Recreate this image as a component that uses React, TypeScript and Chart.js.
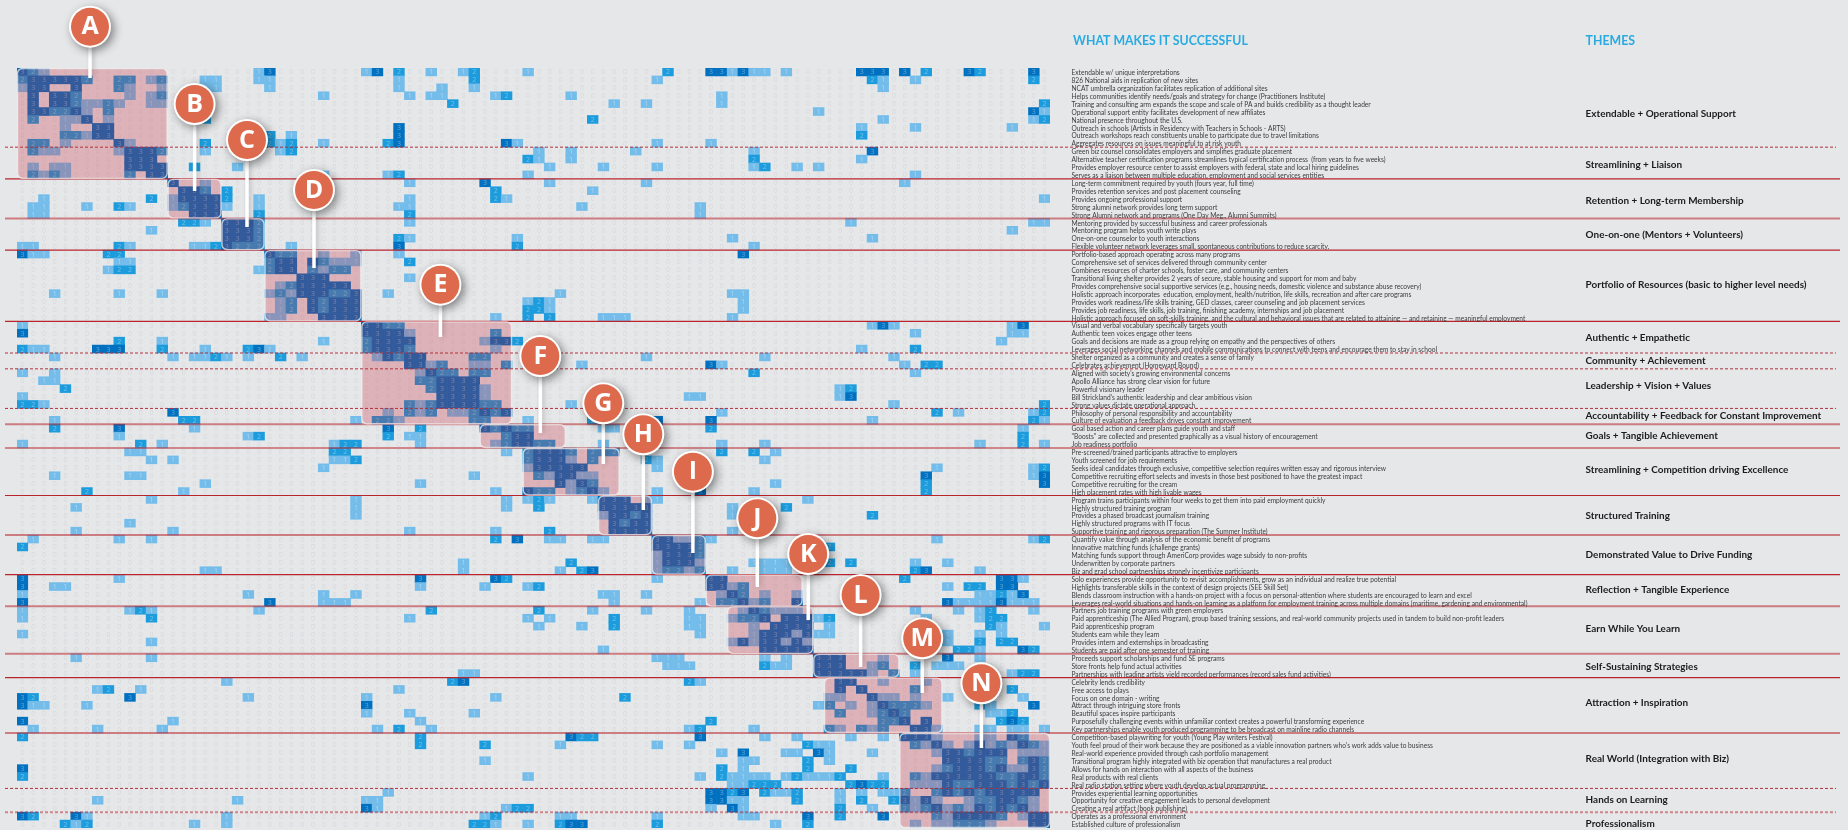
import React, { useEffect, useRef } from "react";
import { Chart, registerables } from "chart.js";

Chart.register(...registerables);

// ---------- DATA ----------
// Each entry is one matrix row, written as "column:score" for every non-zero cell (all others are 0).
const rowScores: string[] = [
  "0:3 1:2 2:1 22:1 23:3 32:1 33:3 35:2 38:1 41:1 42:2 47:1 60:2 64:3 65:3 66:1 67:3 68:1 69:1 71:1 78:3 79:3 80:3 82:3 84:2 88:3 89:2 94:3",
  "0:2 1:3 2:3 3:3 4:3 5:3 6:2 9:2 10:2 12:1 13:2 17:1 18:1 22:1 23:1 35:1 42:2 59:1 79:2 80:1 83:1 94:2",
  "0:1 1:3 2:3 5:3 9:2 10:1 13:1 17:1 18:1 23:1 35:1 39:1 42:1 80:1",
  "1:3 3:3 4:3 5:2 10:1 12:1 13:2 28:1 36:1 38:1 39:1 44:1 45:2 51:1 65:1",
  "1:3 3:3 4:3 5:2 6:1 7:1 8:2 9:1 12:1 13:1 40:2 55:1 58:1 65:1 95:2",
  "1:3 2:3 3:2 4:2 5:3 6:1 8:2 74:1 94:3 95:1",
  "1:2 4:1 5:1 6:3 8:1 17:2 53:2 80:1 94:1 95:2",
  "4:1 7:3 8:3 35:3 78:1 83:1 92:1",
  "4:2 5:2 6:1 7:3 8:3 23:2 25:1 35:3 78:2",
  "1:2 2:2 4:1 9:3 10:1 17:2 23:2 24:1 25:2 28:1 34:2 35:3 45:3 46:1 59:1 64:1",
  "1:2 2:1 3:1 9:1 10:3 11:3 12:3 13:2 17:1 24:1 25:2 48:1 51:1 57:1 68:1 79:3",
  "10:3 11:3 12:3 47:2 48:1 51:1 68:2 78:1",
  "1:1 3:1 4:1 10:3 11:3 12:3 13:3 16:2 20:1 49:1 54:1 59:1 68:1 69:2 72:1 74:1",
  "1:2 2:1 3:2 4:1 10:2 12:3 13:3 28:1 34:1 35:2 47:1 83:1",
  "14:3 17:1 36:1 43:3 49:1 58:1 82:1",
  "15:3 16:3 17:2 19:2 44:2 53:1",
  "2:1 12:2 14:1 15:3 16:3 17:3 18:3 19:2 22:1 36:1 44:2 45:1 95:1",
  "1:1 2:1 6:1 9:2 10:1 14:1 15:2 16:3 17:3 18:3 19:1 22:1 35:1 36:1 52:1 63:1",
  "1:1 2:1 16:3 17:3 18:3 22:2 36:2 63:1",
  "15:2 16:2 17:1 19:3 20:3 21:3 22:2 36:1 77:1 94:1 95:1",
  "12:1 19:3 20:3 21:3 22:2 92:1",
  "19:3 20:3 21:3 22:2 35:2 36:1 46:1 66:1 79:1",
  "0:1 1:1 9:2 10:1 16:1 17:1 18:2 19:3 20:2 21:2 22:2 25:1 35:3 46:2 68:1",
  "0:3 1:1 2:1 8:2 9:2 23:3 24:2 25:2 28:1 31:1 35:1 67:3",
  "9:1 10:1 23:2 24:3 25:3 27:3 28:2 29:1 30:1 31:1 36:2",
  "8:1 9:2 10:2 22:1 23:2 24:3 25:3 27:2 28:1 29:2 30:2",
  "26:3 27:3 28:3 36:1",
  "24:1 25:2 26:3 27:3 28:3 29:3 30:3",
  "3:1 9:1 13:1 23:1 24:2 25:1 26:3 27:3 28:3 29:2 30:2 31:3 34:1 50:1 66:1 67:1",
  "24:1 25:2 27:3 28:2 29:3 30:3 31:3 47:1 48:2 49:1 67:1",
  "24:1 25:2 27:3 28:2 29:3 30:3 31:3 47:2 48:2 49:1 67:1",
  "23:1 24:1 28:3 29:3 30:3 31:3 44:1 47:2 49:2 54:1 55:1 56:1 66:1",
  "0:1 32:3 33:3 34:2 35:2 79:1 80:3 81:1 92:1 93:3",
  "0:3 32:3 33:3 34:3 35:3 36:1 44:2 83:1 92:1 93:1",
  "9:2 13:1 28:1 32:2 33:3 34:3 35:3 36:3 43:1 44:3 45:3 46:2 91:1",
  "0:2 1:1 2:1 7:3 8:3 9:3 13:2 17:1 21:2 22:3 23:1 32:2 33:3 34:3 35:3 36:2 44:1 78:1 83:2",
  "3:1 14:1 16:1 17:1 18:2 19:1 21:1 24:2 26:1 33:1 34:3 35:2 36:3 37:3 42:2 43:2 47:1 58:1 69:1 81:1",
  "36:3 37:3 38:1 39:2 42:1 43:1 45:2 47:1 52:1 64:3 65:1 82:1 84:2 85:2",
  "0:1 3:1 37:1 38:3 39:2 40:2 42:2 43:2 68:2 83:1",
  "2:1 3:1 37:2 38:2 39:3 40:3 41:3 42:3",
  "4:2 38:2 39:3 40:3 41:3 42:3 43:1 76:1 77:2",
  "0:1 39:3 40:3 41:3 42:3 43:1 62:1 63:1 76:1 77:3",
  "0:2 1:2 2:1 36:2 37:1 38:2 39:3 40:3 41:3 42:3 43:2 44:2 51:1 81:1 95:2",
  "14:3 34:1 36:2 37:1 38:2 40:1 41:1 42:2 43:3 44:2 45:3 65:1 85:2 87:1 94:1 95:2",
  "3:1 15:2 16:2 31:1 33:2 34:2 35:1 42:2 43:2 47:1 53:2 59:3 64:3 79:1 94:2 95:1",
  "3:2 9:3 16:1 34:3 37:2 43:3 44:2 45:3 46:2 47:2 54:1 55:1 64:2 93:1",
  "9:1 21:1 22:2 34:2 36:1 37:1 45:2 46:3 47:3 93:2",
  "0:1 11:2 13:1 29:1 30:2 31:2 37:1 44:1 45:2 46:3 47:3 48:2 49:2 54:1 65:1 69:1 89:1 93:2 95:1",
  "10:1 11:1 29:2 30:2 45:1 47:2 48:3 49:3 50:3 51:2 53:2 54:2 55:2 65:2 68:2 70:1",
  "12:1 14:1 29:1 30:1 31:2 47:2 48:3 49:3 50:3 51:1 53:2 58:2 59:1 69:1",
  "28:1 47:1 48:3 49:3 50:3 51:3 52:3 59:1 85:1 94:1 95:2",
  "3:1 10:1 11:1 42:1 48:2 49:1 50:3 51:3 52:1 53:1 84:3 94:1 95:3",
  "17:1 37:1 50:3 51:1 52:3 53:2 70:1 84:2 95:3",
  "6:2 15:1 44:1 47:3 48:2 49:2 51:1 52:2 53:3 54:1 59:1 63:3 68:1 84:2",
  "12:1 31:1 45:1 47:1 48:2 49:1 53:1 54:3 55:3 56:3 58:1 59:1 73:1",
  "5:1 31:1 45:1 48:2 54:3 55:3 56:3 57:3 58:3 66:1 71:2",
  "31:1 54:1 55:3 56:3 57:2 58:3 66:1 79:2",
  "10:1 55:3 56:2 57:3 58:3",
  "5:1 14:1 36:1 44:1 49:2 55:3 56:3 57:3 58:3 66:1",
  "1:1 9:1 12:1 44:2 46:3 49:1 50:1 53:1 54:1 59:3 60:3 61:1 62:1 63:2 64:1 85:1 94:1 95:2",
  "0:2 59:3 60:3 61:3 62:3 63:2 75:2",
  "59:1 60:3 61:3 62:3 63:2",
  "41:1 51:2 59:1 60:3 61:3 62:3 63:1 68:1 69:1 70:1 71:1 75:2 77:2 83:1 86:1",
  "17:1 18:1 41:1 50:1 52:2 53:3 59:1 60:2 61:2 62:1 63:2 66:1 69:1 70:1 71:1 83:2 84:3 89:1",
  "0:3 9:1 37:3 44:3 45:2 59:1 64:3 65:3 82:2 91:3 92:3 93:1",
  "0:3 3:1 4:1 37:1 43:1 47:1 48:2 64:3 65:3 66:1 67:2 86:1 88:2 89:2 91:3 92:3",
  "0:1 21:1 28:1 31:1 54:1 55:1 58:1 65:1 66:3 67:2 69:1 72:1 89:1 90:1 91:2 92:1 93:3",
  "0:3 23:3 28:1 29:1 30:1 55:1 63:1 65:2 66:2 67:3 68:1 69:2 72:3 86:3 87:1 88:1 89:1 90:1 91:3 92:1 93:1 94:1",
  "0:1 10:1 11:2 12:1 22:1 38:2 48:2 53:1 58:1 62:1 67:1 68:3 69:2 70:1 71:1 72:1 83:1 87:1 89:1 90:2 94:1",
  "0:1 12:2 36:1 47:1 49:1 55:2 62:1 63:1 66:1 67:2 68:2 69:3 71:3 72:3 73:3 74:1 75:2 84:1 89:1 90:2 91:2",
  "48:1 52:1 55:2 62:1 63:1 68:1 70:3 71:3 72:3 73:3 75:1 90:2 91:1 95:1",
  "0:1 63:1 68:1 69:3 70:3 71:3 72:1 73:3 74:1 75:1 86:1 89:1 91:1",
  "12:1 66:1 67:3 68:1 69:3 70:3 71:1 72:3 73:1 86:1 89:2 91:2 92:2",
  "54:1 69:3 70:3 71:3 72:3 73:3 87:2 88:2 89:1 93:3 94:2",
  "5:1 12:1 59:1 60:1 61:1 69:1 71:1 74:3 75:3 76:3 80:1 86:3 89:1",
  "60:1 61:1 62:1 69:2 70:1 71:1 74:3 75:3 76:3 79:1 80:2 83:2 85:1 86:1 87:1",
  "41:1 42:1 74:3 75:3 76:3 77:3 78:3 79:1 81:2 83:1 92:1 93:2 94:2",
  "19:1 40:2 41:3 62:2 63:1 76:3 77:3 80:1 84:1",
  "7:1 8:2 11:1 35:1 76:3 78:3 83:2 92:2",
  "0:3 1:2 10:3 21:1 32:1 44:1 56:2 75:1 76:1 79:3 80:1 81:1 83:1 86:1 93:1",
  "0:3 1:1 2:1 6:1 32:3 74:1 75:2 77:1 79:1 80:3 81:2 82:2 83:2 84:1 89:2 90:1 94:3",
  "32:1 36:1 42:1 76:2 79:1 80:2 81:3 82:2 90:1 91:1 92:2",
  "0:3 14:1 37:1 64:2 80:2 81:2 82:3 84:3 91:2 92:3 93:2",
  "1:1 7:1 13:1 33:1 35:2 38:1 62:1 63:2 68:1 75:2 76:1 78:2 79:1 80:2 83:3 84:3 85:1 89:1 90:1 92:1 93:1 95:1",
  "0:2 37:2 51:3 52:2 53:2 63:3 69:1 72:1 77:1 80:1 82:3 83:3 84:3 85:1 89:1 90:1 92:3 93:2",
  "37:2 43:2 50:1 59:1 62:1 73:2 74:1 75:1 83:2 84:1 85:3 86:1 88:1 89:3 90:1 91:2 92:1 93:3 94:2 95:1",
  "65:1 67:3 71:1 72:1 74:3 75:1 79:1 85:1 86:3 87:3 88:2 89:3 90:3 91:3 93:1 94:1 95:1",
  "43:1 67:1 68:1 73:2 75:1 86:3 87:3 88:3 89:3 90:2 91:2 93:2 94:3 95:2",
  "0:3 65:2 67:1 73:2 77:2 85:1 86:2 87:3 88:3 89:3 90:2 91:3 92:1 93:1 94:3 95:2",
  "0:2 47:1 63:1 65:2 66:1 67:1 68:1 69:1 71:1 72:2 73:1 74:1 75:1 76:2 80:1 83:2 84:1 85:3 86:3 87:3 88:3 89:3 90:3 91:2 92:2 93:3 94:3 95:2",
  "66:1 67:1 68:2 69:2 70:2 77:2 78:3 79:2 80:2 83:1 84:1 85:1 86:3 87:2 88:2 89:3 90:3 91:3 92:2 93:3 94:2 95:3",
  "34:1 64:3 65:3 66:2 67:3 69:2 70:1 71:1 72:2 76:1 78:1 80:1 81:1 82:2 85:2 86:3 87:2 88:3 89:2 90:3 91:3 92:3 93:3 94:3",
  "7:1 20:1 32:1 33:1 64:3 65:3 66:1 67:1 72:2 76:1 78:2 81:2 82:3 83:1 84:3 85:1 88:1 89:2 90:2 91:3 92:3 93:2 94:1",
  "32:3 33:1 45:1 46:2 47:2 64:1 66:3 67:1 76:2 79:1 82:2 83:1 84:2 85:3 86:1 87:2 88:1 89:3 90:2 91:3 92:2 93:3 94:1",
  "0:3 1:2 5:3 6:1 19:1 43:1 44:2 50:1 51:1 59:1 67:1 68:1 73:3 76:2 80:3 85:2 86:1 87:3 88:3 89:3 90:3 91:2 93:1 94:3 95:3",
  "4:2 5:1 6:2 16:1 19:1 42:2 43:2 44:1 47:1 50:2 51:3 52:3 59:2 70:1 73:2 83:1 85:1 86:1 87:2 88:2 89:2 90:1 94:3 95:3",
];

const successFactors: string[] = [
  "Extendable w/ unique interpretations",
  "826 National aids in replication of new sites",
  "NCAT umbrella organization facilitates replication of additional sites",
  "Helps communities identify needs/goals and strategy for change (Practitioners Institute)",
  "Training and consulting arm expands the scope and scale of PA and builds credibility as a thought leader",
  "Operational support entity facilitates development of new affiliates",
  "National presence throughout the U.S.",
  "Outreach in schools (Artists in Residency with Teachers in Schools - ARTS)",
  "Outreach workshops reach constituents unable to participate due to travel limitations",
  "Aggregates resources on issues meaningful to at risk youth",
  "Green biz counsel consolidates employers and simplifies graduate placement",
  "Alternative teacher certification programs streamlines typical certification process  (from years to five weeks)",
  "Provides employer resource center to assist employers with federal, state and local hiring guidelines",
  "Serves as a liaison between multiple education, employment and social services entities",
  "Long-term commitment required by youth (fours year, full time)",
  "Provides retention services and post placement counseling",
  "Provides ongoing professional support",
  "Strong alumni network provides long term support",
  "Strong Alumni network and programs (One Day Meg., Alumni Summits)",
  "Mentoring provided by successful business and career professionals",
  "Mentoring program helps youth write plays",
  "One-on-one counselor to youth interactions",
  "Flexible volunteer network leverages small, spontaneous contributions to reduce scarcity.",
  "Portfolio-based approach operating across many programs",
  "Comprehensive set of services delivered through community center",
  "Combines resources of charter schools, foster care, and community centers",
  "Transitional living shelter provides 2 years of secure, stable housing and support for mom and baby",
  "Provides comprehensive social supportive services (e.g., housing needs, domestic violence and substance abuse recovery)",
  "Holistic approach incorporates  education, employment, health/nutrition, life skills, recreation and after care programs",
  "Provides work readiness/life skills training, GED classes, career counseling and job placement services",
  "Provides job readiness, life skills, job training, finishing academy, internships and job placement",
  "Holistic approach focused on soft-skills training, and the cultural and behavioral issues that are related to attaining — and retaining — meaningful employment",
  "Visual and verbal vocabulary specifically targets youth",
  "Authentic teen voices engage other teens",
  "Goals and decisions are made as a group relying on empathy and the perspectives of others",
  "Leverages social networking channels and mobile communications to connect with teens and encourage them to stay in school",
  "Shelter organized as a community and creates a sense of family",
  "Celebrates achievement (Homeward Bound)",
  "Aligned with society's growing environmental concerns",
  "Apollo Alliance has strong clear vision for future",
  "Powerful visionary leader",
  "Bill Strickland's authentic leadership and clear ambitious vision",
  "Strong values dictate operational approach",
  "Philosophy of personal responsibility and accountability",
  "Culture of evaluation a feedback drives constant improvement",
  "Goal based action and career plans guide youth and staff",
  "\"Boosts\" are collected and presented graphically as a visual history of encouragement",
  "Job readiness portfolio",
  "Pre-screened/trained participants attractive to employers",
  "Youth screened for job requirements",
  "Seeks ideal candidates through exclusive, competitive selection requires written essay and rigorous interview",
  "Competitive recruiting effort selects and invests in those best positioned to have the greatest impact",
  "Competitive recruiting for the cream",
  "High placement rates with high livable wages",
  "Program trains participants within four weeks to get them into paid employment quickly",
  "Highly structured training program",
  "Provides a phased broadcast journalism training",
  "Highly structured programs with IT focus",
  "Supportive training and rigorous preparation (The Summer Institute)",
  "Quantify value through analysis of the economic benefit of programs",
  "Innovative matching funds (challenge grants)",
  "Matching funds support through AmeriCorp provides wage subsidy to non-profits",
  "Underwritten by corporate partners",
  "Biz and grad school partnerships strongly incentivize participants",
  "Solo experiences provide opportunity to revisit accomplishments, grow as an individual and realize true potential",
  "Highlights transferable skills in the context of design projects (SEE Skill Set)",
  "Blends classroom instruction with a hands-on project with a focus on personal-attention where students are encouraged to learn and excel",
  "Leverages real-world situations and hands-on learning as a platform for employment training across multiple domains (maritime, gardening and environmental)",
  "Partners job training programs with green employers",
  "Paid apprenticeship (The Allied Program), group based training sessions, and real-world community projects used in tandem to build non-profit leaders",
  "Paid apprenticeship program",
  "Students earn while they learn",
  "Provides intern and externships in broadcasting",
  "Students are paid after one semester of training",
  "Proceeds support scholarships and fund SE programs",
  "Store fronts help fund actual activities",
  "Partnerships with leading artists yield recorded performances (record sales fund activities)",
  "Celebrity lends credibility",
  "Free access to plays",
  "Focus on one domain - writing",
  "Attract through intriguing store fronts",
  "Beautiful spaces inspire participants",
  "Purposefully challenging events within unfamiliar context creates a powerful transforming experience",
  "Key partnerships enable youth produced programming to be broadcast on mainline radio channels",
  "Competition-based playwriting for youth (Young Play writers Festival)",
  "Youth feel proud of their work because they are positioned as a viable innovation partners who's work adds value to business",
  "Real-world experience provided through cash portfolio management",
  "Transitional program highly integrated with biz operation that manufactures a real product",
  "Allows for hands on interaction with all aspects of the business",
  "Real products with real clients",
  "Real radio station setting where youth develop actual programming",
  "Provides experiential learning opportunities",
  "Opportunity for creative engagement leads to personal development",
  "Creating a real artifact (book publishing)",
  "Operates as a professional environment",
  "Established culture of professionalism",
];

const themeNames: string[] = [
  "Extendable + Operational Support",
  "Streamlining + Liaison",
  "Retention + Long-term Membership",
  "One-on-one (Mentors + Volunteers)",
  "Portfolio of Resources (basic to higher level needs)",
  "Authentic + Empathetic",
  "Community + Achievement",
  "Leadership + Vision + Values",
  "Accountability + Feedback for Constant Improvement",
  "Goals + Tangible Achievement",
  "Streamlining + Competition driving Excellence",
  "Structured Training",
  "Demonstrated Value to Drive Funding",
  "Reflection + Tangible Experience",
  "Earn While You Learn",
  "Self-Sustaining Strategies",
  "Attraction + Inspiration",
  "Real World (Integration with Biz)",
  "Hands on Learning",
  "Professionalism",
];
const themeRowCentres: number[] = [
  5.8, 12.25, 16.8, 21.1, 27.4, 34.1, 37, 40.15, 43.9, 46.5, 50.75, 56.6, 61.5, 65.9, 70.8, 75.6, 80.2, 87.2, 92.4, 95.45,
];

const solidBreaks: number[] = [14, 23, 32, 48, 54, 64, 77];
const paleBreaks: number[] = [19, 45, 59, 68, 74, 84];
const dashedBreaks: number[] = [10, 36, 38, 43, 91];
const paleDashedBreaks: number[] = [94];

// [first column, last column, first row, last row] of each cluster
const clusterRanges: number[][] = [
  [0, 13, 0, 13], [14, 18, 14, 18], [19, 22, 19, 22], [23, 31, 23, 31], [32, 45, 32, 44],
  [43, 50, 45, 47], [47, 55, 48, 53], [54, 58, 54, 58], [59, 63, 59, 63], [64, 72, 64, 67],
  [66, 73, 68, 73], [74, 81, 74, 76], [75, 85, 77, 83], [82, 95, 84, 95],
];
const calloutLetters: string[] = ["A", "B", "C", "D", "E", "F", "G", "H", "I", "J", "K", "L", "M", "N"];

// ---------- LAYOUT / STYLE ----------
const W = 1848;
const H = 830;
const GRID = { left: 17, right: 1050, top: 68, bottom: 828 };
const SIZE = 96;
const calloutAnchors: number[][] = [
  [90, 26.7, 78], [194.6, 104, 191], [247, 140, 227], [314, 190, 268], [440.4, 284.7, 337],
  [540.3, 356, 433], [603.3, 403.3, 464], [643.3, 434.3, 510], [692.9, 471.7, 553], [757.3, 518.3, 587],
  [808.2, 554, 620], [860.6, 595, 667], [922.2, 638.3, 693], [981.4, 683.3, 748],
];
const LEVEL_COLOURS = ["", "#74bdea", "#1c9cdc", "#0070c0"];

const parseRow = (s: string) =>
  s.split(" ").filter(Boolean).map((p) => p.split(":").map(Number));

const fitFont = (ctx: CanvasRenderingContext2D, weight: string, family: string, sample: string, width: number) => {
  ctx.font = `${weight} 20px ${family}`;
  return (20 * width) / ctx.measureText(sample).width;
};

const overlayPlugin = {
  id: "matrixOverlay",
  afterDatasetsDraw(chart: any) {
    const { ctx, scales } = chart;
    const xs = scales.x;
    const ys = scales.y;
    const cell = rowScores.map((s) => {
      const m = new Map<number, number>();
      parseRow(s).forEach(([c, v]) => m.set(c, v));
      return m;
    });

    ctx.save();
    // digits in every cell
    ctx.textAlign = "center";
    ctx.textBaseline = "middle";
    ctx.font = "7px 'Open Sans'";
    for (let r = 0; r < SIZE; r++) {
      for (let c = 0; c < SIZE; c++) {
        const v = cell[r].get(c) || 0;
        ctx.fillStyle = v === 0 ? "#d7d8db" : "rgba(255,255,255,0.36)";
        ctx.fillText(String(v), xs.getPixelForValue(c + 0.5), ys.getPixelForValue(r + 0.5) + 0.5);
      }
    }

    const lineLeft = 5;
    const hLine = (row: number, colour: string, width: number, dash: number[], right: number) => {
      const y = ys.getPixelForValue(row);
      ctx.beginPath();
      ctx.setLineDash(dash);
      ctx.strokeStyle = colour;
      ctx.lineWidth = width;
      ctx.moveTo(lineLeft, y);
      ctx.lineTo(right, y);
      ctx.stroke();
      ctx.setLineDash([]);
    };
    solidBreaks.forEach((r) => hLine(r, "#b8242c", 1.1, [], 1840));
    paleBreaks.forEach((r) => hLine(r, "rgba(184,36,44,0.55)", 2, [], 1840));

    // cluster blocks
    clusterRanges.forEach(([c0, c1, r0, r1]) => {
      const x0 = xs.getPixelForValue(c0) + 0.5;
      const x1 = xs.getPixelForValue(c1 + 1) - 0.5;
      const y0 = ys.getPixelForValue(r0) + 0.5;
      const y1 = ys.getPixelForValue(r1 + 1) - 0.5;
      ctx.beginPath();
      ctx.roundRect(x0, y0, x1 - x0, y1 - y0, 5);
      ctx.fillStyle = "rgba(196,30,50,0.26)";
      ctx.fill();
      ctx.strokeStyle = "rgba(240,240,240,0.75)";
      ctx.lineWidth = 1.4;
      ctx.stroke();
    });

    dashedBreaks.forEach((r) => hLine(r, "#b0303a", 1, [3, 2], 1836));
    paleDashedBreaks.forEach((r) => hLine(r, "rgba(184,36,44,0.5)", 2, [3, 2], 1836));

    // right-hand columns
    ctx.textAlign = "left";
    const longest = "Holistic approach focused on soft-skills training, and the cultural and behavioral issues that are related to attaining — and retaining — meaningful employment";
    const bodySize = fitFont(ctx, "400", "Lato", longest, 454);
    ctx.font = `400 ${bodySize}px Lato`;
    ctx.fillStyle = "#3c3c3e";
    successFactors.forEach((t, r) => {
      ctx.fillText(t, 1071.5, ys.getPixelForValue(r + 0.5) + 1);
    });

    const themeSize = fitFont(ctx, "700", "Lato", "Accountability + Feedback for Constant Improvement", 236);
    ctx.font = `700 ${themeSize}px Lato`;
    ctx.fillStyle = "#1c1c1e";
    themeNames.forEach((t, i) => {
      ctx.fillText(t, 1585.6, ys.getPixelForValue(themeRowCentres[i]));
    });

    const headSize = fitFont(ctx, "700", "Lato", "WHAT MAKES IT SUCCESSFUL", 175);
    ctx.font = `700 ${headSize}px Lato`;
    ctx.fillStyle = "#29abe2";
    ctx.fillText("WHAT MAKES IT SUCCESSFUL", 1073, 41);
    ctx.fillText("THEMES", 1585.6, 41);

    // lettered callouts
    calloutLetters.forEach((letter, i) => {
      const [cx, cy, tip] = calloutAnchors[i];
      ctx.save();
      ctx.shadowColor = "rgba(0,0,0,0.2)";
      ctx.shadowBlur = 5;
      ctx.shadowOffsetX = 2;
      ctx.strokeStyle = "#ffffff";
      ctx.lineWidth = 3.5;
      ctx.beginPath();
      ctx.moveTo(cx, cy);
      ctx.lineTo(cx, tip);
      ctx.stroke();
      ctx.shadowColor = "rgba(0,0,0,0.45)";
      ctx.shadowBlur = 10;
      ctx.shadowOffsetX = 3;
      ctx.shadowOffsetY = 3;
      ctx.beginPath();
      ctx.arc(cx, cy, 21, 0, Math.PI * 2);
      ctx.fillStyle = "#ffffff";
      ctx.fill();
      ctx.restore();
      ctx.beginPath();
      ctx.arc(cx, cy, 19, 0, Math.PI * 2);
      ctx.fillStyle = "#dd6a4d";
      ctx.fill();
      ctx.fillStyle = "#ffffff";
      ctx.textAlign = "center";
      ctx.textBaseline = "middle";
      ctx.font = "700 25px 'Open Sans'";
      ctx.fillText(letter, cx, cy + 0.5);
    });
    ctx.restore();
  },
};

export default function App() {
  const canvasRef = useRef<HTMLCanvasElement | null>(null);

  useEffect(() => {
    document.body.style.margin = "0";
    document.body.style.background = "#e6e7e9";
    document.documentElement.style.overflow = "hidden";
    const points: any[] = [];
    rowScores.forEach((s, r) => {
      parseRow(s).forEach(([c, v]) => points.push({ x: c + 0.5, y: [r, r + 1], v }));
    });
    const chart = new Chart(canvasRef.current as HTMLCanvasElement, {
      type: "bar",
      data: {
        datasets: [
          {
            label: "Score",
            data: points,
            backgroundColor: (ctx: any) => LEVEL_COLOURS[ctx.raw ? ctx.raw.v : 1],
            borderWidth: 0,
            barThickness: (GRID.right - GRID.left) / SIZE,
            grouped: false,
          } as any,
        ],
      },
      options: {
        animation: false,
        responsive: false,
        events: [],
        layout: {
          padding: { left: GRID.left, right: W - GRID.right, top: GRID.top, bottom: H - GRID.bottom },
        },
        plugins: { legend: { display: false }, tooltip: { enabled: false }, title: { display: false } },
        scales: {
          x: { type: "linear", min: 0, max: SIZE, offset: false, display: false },
          y: { type: "linear", min: 0, max: SIZE, reverse: true, display: false },
        },
      },
      plugins: [overlayPlugin],
    } as any);
    return () => chart.destroy();
  }, []);

  return (
    <div style={{ position: "absolute", left: 0, top: 0, width: W, height: H, background: "#e6e7e9" }}>
      <canvas ref={canvasRef} width={W} height={H} style={{ display: "block" }} />
    </div>
  );
}
